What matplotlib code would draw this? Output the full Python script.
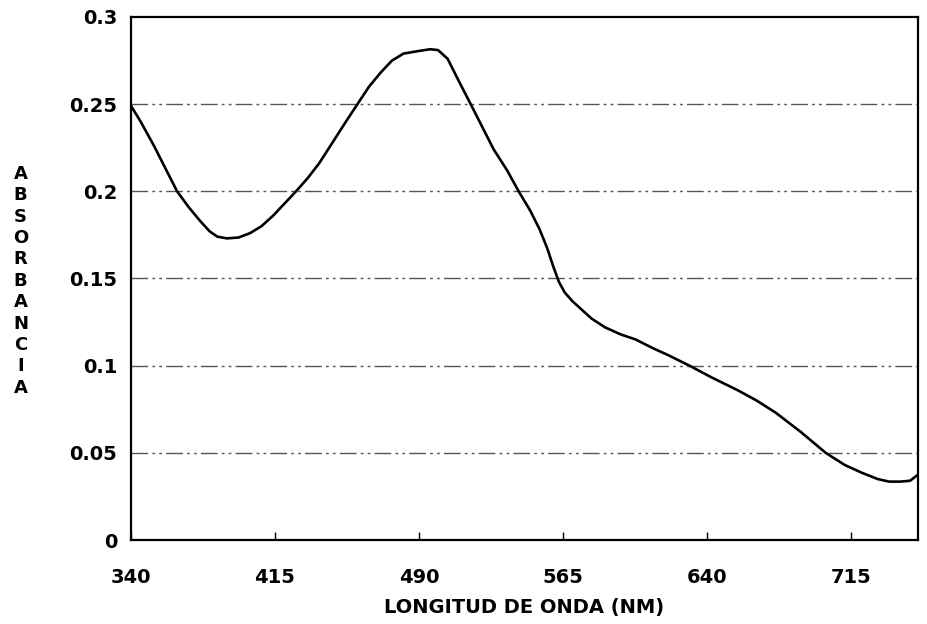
import matplotlib
matplotlib.use("Agg")
import matplotlib.pyplot as plt

# spectrum
wavelength = [340, 345, 352, 358, 364, 370, 376, 381, 385, 390, 396, 402, 408,
              414, 420, 426, 432, 438, 445, 452, 458, 464, 470, 476, 482, 490,
              496, 500, 505, 510, 517, 523, 529, 536, 542, 548, 553, 557, 560,
              563, 566, 570, 575, 580, 587, 595, 603, 612, 620, 631, 643, 656, 666,
              676, 689, 702, 712, 721, 729, 735, 741, 746, 750]
absorbance = [0.249, 0.240, 0.226, 0.213, 0.200, 0.191, 0.183, 0.177, 0.174, 0.173,
              0.1735, 0.176, 0.180, 0.186, 0.193, 0.200, 0.2075, 0.216, 0.228, 0.240,
              0.250, 0.260, 0.268, 0.275, 0.279, 0.2805, 0.2815, 0.281, 0.276, 0.265,
              0.250, 0.237, 0.224, 0.212, 0.200, 0.189, 0.178, 0.167, 0.157, 0.148,
              0.142, 0.137, 0.132, 0.127, 0.122, 0.118, 0.115, 0.110, 0.106, 0.100,
              0.093, 0.086, 0.080, 0.073, 0.062, 0.050, 0.043, 0.0385, 0.035, 0.0335,
              0.0335, 0.034, 0.0374]

x_ticks = [340, 415, 490, 565, 640, 715]
y_ticks = [0, 0.05, 0.1, 0.15, 0.2, 0.25, 0.3]
y_tick_labels = ['0', '0.05', '0.1', '0.15', '0.2', '0.25', '0.3']
grid_levels = [0.05, 0.1, 0.15, 0.2, 0.25]

plt.rcParams['font.family'] = ['DejaVu Sans']
plt.rcParams['font.weight'] = 'bold'

fig = plt.figure(figsize=(9.28, 6.24), dpi=100)
ax = fig.add_axes([0.1412, 0.1346, 0.8478, 0.8382])

for g in grid_levels:
    ax.axhline(g, color='#555555', lw=1.0, ls=(0, (12, 3, 2, 3, 2, 3)), zorder=1)

ax.plot(wavelength, absorbance, color='black', lw=1.9, zorder=3,
        solid_joinstyle='round')

ax.set_xlim(340, 750)
ax.set_ylim(0, 0.3)
ax.set_xticks(x_ticks)
ax.set_yticks(y_ticks)
ax.set_yticklabels(y_tick_labels)
ax.tick_params(axis='x', direction='in', length=6, width=1, pad=20, labelsize=14)
ax.tick_params(axis='y', length=0, pad=10, labelsize=14)
for lab in ax.get_xticklabels() + ax.get_yticklabels():
    lab.set_fontweight('bold')

for s in ax.spines.values():
    s.set_linewidth(1.6)

ax.set_xlabel('LONGITUD DE ONDA (NM)', fontsize=14, fontweight='bold', labelpad=8)
fig.text(0.022, 0.55, '\n'.join('ABSORBANCIA'), ha='center', va='center',
         fontsize=13, fontweight='bold', linespacing=1.24)

fig.savefig('out.png', dpi=100, facecolor='white')
